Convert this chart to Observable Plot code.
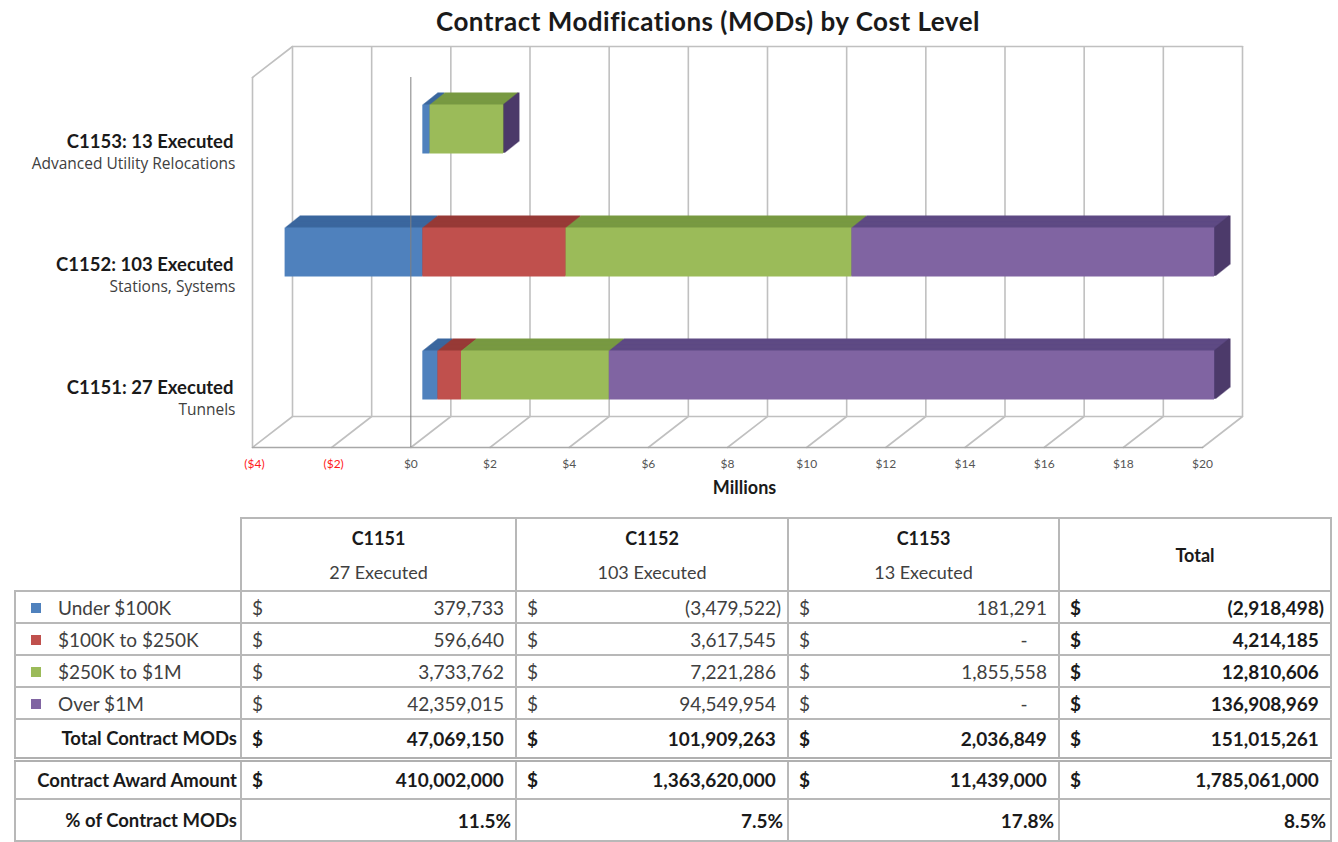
<!DOCTYPE html>
<html>
<head>
<meta charset="utf-8">
<script src="https://cdn.jsdelivr.net/npm/d3@7"></script>
<script src="https://cdn.jsdelivr.net/npm/@observablehq/plot@0.6"></script>
<style>
  body { margin: 0; background: #fff; font-family: Lato, "Open Sans", sans-serif; }
  #wrap { position: relative; width: 1338px; height: 842px; overflow: hidden; }
  #title { position: absolute; left: 308px; width: 800px; top: 5px; text-align: center;
           font-weight: bold; font-size: 26px; letter-spacing: 0.5px; color: #1a1a1a; }
  #chart { position: absolute; left: 0; top: 44px; }
  table { position: absolute; left: 14px; top: 517px; border-collapse: collapse;
          table-layout: fixed; font-size: 19px; color: #404040; }
  td { border: 2px solid #b8b8b8; padding: 0; white-space: nowrap; }
  td.blank { border-top: none; border-left: none; }
  td.hdr { text-align: center; vertical-align: middle; line-height: 34px; font-size: 18px; }
  td.hdr b { color: #1a1a1a; }
  td.lab { padding-left: 15px; }
  td.lab .sq { display: inline-block; width: 10px; height: 10px; margin-right: 17px; vertical-align: 2px; }
  td.blab { text-align: right; padding-right: 3px; font-weight: bold; color: #1a1a1a; font-size: 18.5px; }
  .mc { display: flex; justify-content: space-between; padding: 0 6px 0 10px; }
  td.b { font-weight: bold; color: #1a1a1a; }
  td.pct { text-align: right; padding-right: 4px; font-weight: bold; color: #1a1a1a; }
  .hid { visibility: hidden; }
  tr.award td { border-top: 5px double #b0b0b0; }
</style>
</head>
<body>
<div id="wrap">
  <div id="title">Contract Modifications (MODs) by Cost Level</div>
  <div id="chart"></div>
  <table id="tbl"></table>
</div>
<script>
// ---------- data ----------
const contracts = ["C1151", "C1152", "C1153"];
const executed = [27, 103, 13];
const descriptions = ["Tunnels", "Stations, Systems", "Advanced Utility Relocations"];
const costLevels = ["Under $100K", "$100K to $250K", "$250K to $1M", "Over $1M"];
const under100K = [379733, -3479522, 181291];
const from100Kto250K = [596640, 3617545, 0];
const from250Kto1M = [3733762, 7221286, 1855558];
const over1M = [42359015, 94549954, 0];
const levelTotals = [-2918498, 4214185, 12810606, 136908969];
const contractTotals = [47069150, 101909263, 2036849];
const grandTotalMods = 151015261;
const awardAmounts = [410002000, 1363620000, 11439000];
const awardTotal = 1785061000;
const pctLabels = ["11.5%", "7.5%", "17.8%", "8.5%"];
const xTicks = [-4, -2, 0, 2, 4, 6, 8, 10, 12, 14, 16, 18, 20];
const xDomain = [-4, 20];

// ---------- styles ----------
const frontColors = ["#4F81BD", "#C0504D", "#9BBB59", "#8064A2"];
const topColors = ["#3B679E", "#973A37", "#789942", "#5E4A84"];
const sideColors = ["#2F5283", "#7A2E2C", "#5E7A31", "#4C3A6A"];
const gridColor = "#c0c0c0";

const W = 1338, H = 462, mL = 252, mR = 136, mT = 33, mB = 59;
const plotW = W - mL - mR;
const wallDX = 40, wallDY = -31;
const wallLen = Math.hypot(wallDX, wallDY);
const wallAngle = Math.atan2(wallDX, -wallDY) * 180 / Math.PI;
const barDX = 12, barDY = -9.5, barDepth = 15, barSlope = 0.8;

const seriesValues = [under100K, from100Kto250K, from250Kto1M, over1M];
const clamp = v => Math.max(xDomain[0], Math.min(xDomain[1], v));
const bars = [];
contracts.forEach((c, i) => {
  let pos = 0, neg = 0;
  seriesValues.forEach((vals, j) => {
    const v = vals[i] / 1e6;
    let a, b;
    if (v < 0) { a = neg + v; b = neg; neg = a; } else { a = pos; b = pos + v; pos = b; }
    bars.push({contract: c, level: j, x1: clamp(a), x2: clamp(b)});
  });
});
const lastSegs = bars.filter(d => d.level === seriesValues.length - 1);
const labels = contracts.map((c, i) => ({contract: c, bold: `${c}: ${executed[i]} Executed`, sub: descriptions[i]}));

const lineShape = {draw(context, l) { context.moveTo(0, 0); context.lineTo(0, -l); }};
const fmtTick = d => d < 0 ? `($${-d})` : `$${d}`;

const marks = [
  Plot.ruleX(xTicks, {x: d => d, dx: wallDX, dy: wallDY, stroke: gridColor, strokeWidth: 1.6}),
  Plot.vector([xDomain[0]], {x: d => d, frameAnchor: "top", dx: wallDX, dy: wallDY, rotate: 90, length: plotW, anchor: "start", shape: lineShape, stroke: gridColor, strokeWidth: 1.6}),
  Plot.vector([xDomain[0]], {x: d => d, frameAnchor: "bottom", dx: wallDX, dy: wallDY, rotate: 90, length: plotW, anchor: "start", shape: lineShape, stroke: gridColor, strokeWidth: 1.6}),
  Plot.vector(xTicks, {x: d => d, frameAnchor: "bottom", rotate: wallAngle, length: wallLen, anchor: "start", shape: lineShape, stroke: gridColor, strokeWidth: 1.6}),
  Plot.vector([xDomain[0]], {x: d => d, frameAnchor: "top", rotate: wallAngle, length: wallLen, anchor: "start", shape: lineShape, stroke: gridColor, strokeWidth: 1.6}),
  Plot.ruleX([xDomain[0]], {x: d => d, stroke: gridColor, strokeWidth: 1.6}),
  Plot.vector([xDomain[0]], {x: d => d, frameAnchor: "bottom", rotate: 90, length: plotW, anchor: "start", shape: lineShape, stroke: "#a8a8a8", strokeWidth: 1.6})
];
for (let k = barDepth; k >= 1; k--) {
  marks.push(Plot.barX(bars, {x1: "x1", x2: "x2", y: "contract", fill: d => topColors[d.level], dx: barDX + k, dy: barDY - barSlope * k}));
  marks.push(Plot.tickX(lastSegs, {x: "x2", y: "contract", stroke: d => sideColors[d.level], strokeWidth: 2, dx: barDX + k, dy: barDY - barSlope * k}));
}
marks.push(
  Plot.barX(bars, {x1: "x1", x2: "x2", y: "contract", fill: d => frontColors[d.level], dx: barDX, dy: barDY}),
  Plot.ruleX([0], {x: d => d, stroke: "#7f7f7f", strokeWidth: 1}),
  Plot.text(xTicks.filter(d => d < 0), {x: d => d, frameAnchor: "bottom", dy: 20, dx: 2, text: fmtTick, fill: "#ff1a1a", fontSize: 12}),
  Plot.text(xTicks.filter(d => d >= 0), {x: d => d, frameAnchor: "bottom", dy: 20, text: fmtTick, fill: "#555", fontSize: 12}),
  Plot.text(["Millions"], {frameAnchor: "bottom", text: d => d, dx: 17, dy: 46, fontWeight: "bold", fontSize: 18, fill: "#1a1a1a"}),
  Plot.text(labels, {y: "contract", frameAnchor: "left", text: "bold", textAnchor: "end", dx: -19, dy: 3, fontWeight: "bold", fontSize: 18.5, fill: "#1a1a1a"}),
  Plot.text(labels, {y: "contract", frameAnchor: "left", text: "sub", textAnchor: "end", dx: -17, dy: 25, fontSize: 15.5, fontFamily: "'Open Sans', Lato, sans-serif", fill: "#404040"})
);

const chart = Plot.plot({
  width: W, height: H,
  marginLeft: mL, marginRight: mR, marginTop: mT, marginBottom: mB,
  style: {fontFamily: "Lato, 'Open Sans', sans-serif", background: "transparent", overflow: "visible"},
  x: {domain: xDomain, axis: null},
  y: {type: "band", domain: ["C1153", "C1152", "C1151"], paddingInner: 0.6, paddingOuter: 0.3, axis: null},
  color: {type: "identity"},
  marks
});
document.getElementById("chart").appendChild(chart);

// ---------- table ----------
const fmtNum = d3.format(",");
function moneyText(v) {
  if (v === 0) return `-<span class="hid">&nbsp;&nbsp;&nbsp;&nbsp;)</span>`;
  if (v < 0) return `(${fmtNum(-v)})`;
  return `${fmtNum(v)}<span class="hid">)</span>`;
}
function moneyCell(v, bold) {
  return `<td class="${bold ? "b" : ""}"><div class="mc"><span>$</span><span>${moneyText(v)}</span></div></td>`;
}

let html = `<colgroup><col style="width:226px"><col style="width:275px"><col style="width:272px"><col style="width:271px"><col style="width:272px"></colgroup>`;
html += `<tr style="height:73px"><td class="blank"></td>` +
  contracts.map((c, i) => `<td class="hdr"><b>${c}</b><br>${executed[i]} Executed</td>`).join("") +
  `<td class="hdr"><b>Total</b></td></tr>`;
seriesValues.forEach((vals, j) => {
  html += `<tr style="height:32px"><td class="lab"><span class="sq" style="background:${frontColors[j]}"></span>${costLevels[j]}</td>` +
    vals.map(v => moneyCell(v, false)).join("") + moneyCell(levelTotals[j], true) + `</tr>`;
});
html += `<tr style="height:40px"><td class="blab">Total Contract MODs</td>` +
  contractTotals.map(v => moneyCell(v, true)).join("") + moneyCell(grandTotalMods, true) + `</tr>`;
html += `<tr class="award" style="height:40px"><td class="blab">Contract Award Amount</td>` +
  awardAmounts.map(v => moneyCell(v, true)).join("") + moneyCell(awardTotal, true) + `</tr>`;
html += `<tr style="height:42px"><td class="blab">% of Contract MODs</td>` +
  pctLabels.map(p => `<td class="pct">${p}</td>`).join("") + `</tr>`;
document.getElementById("tbl").innerHTML = html;
</script>
</body>
</html>
